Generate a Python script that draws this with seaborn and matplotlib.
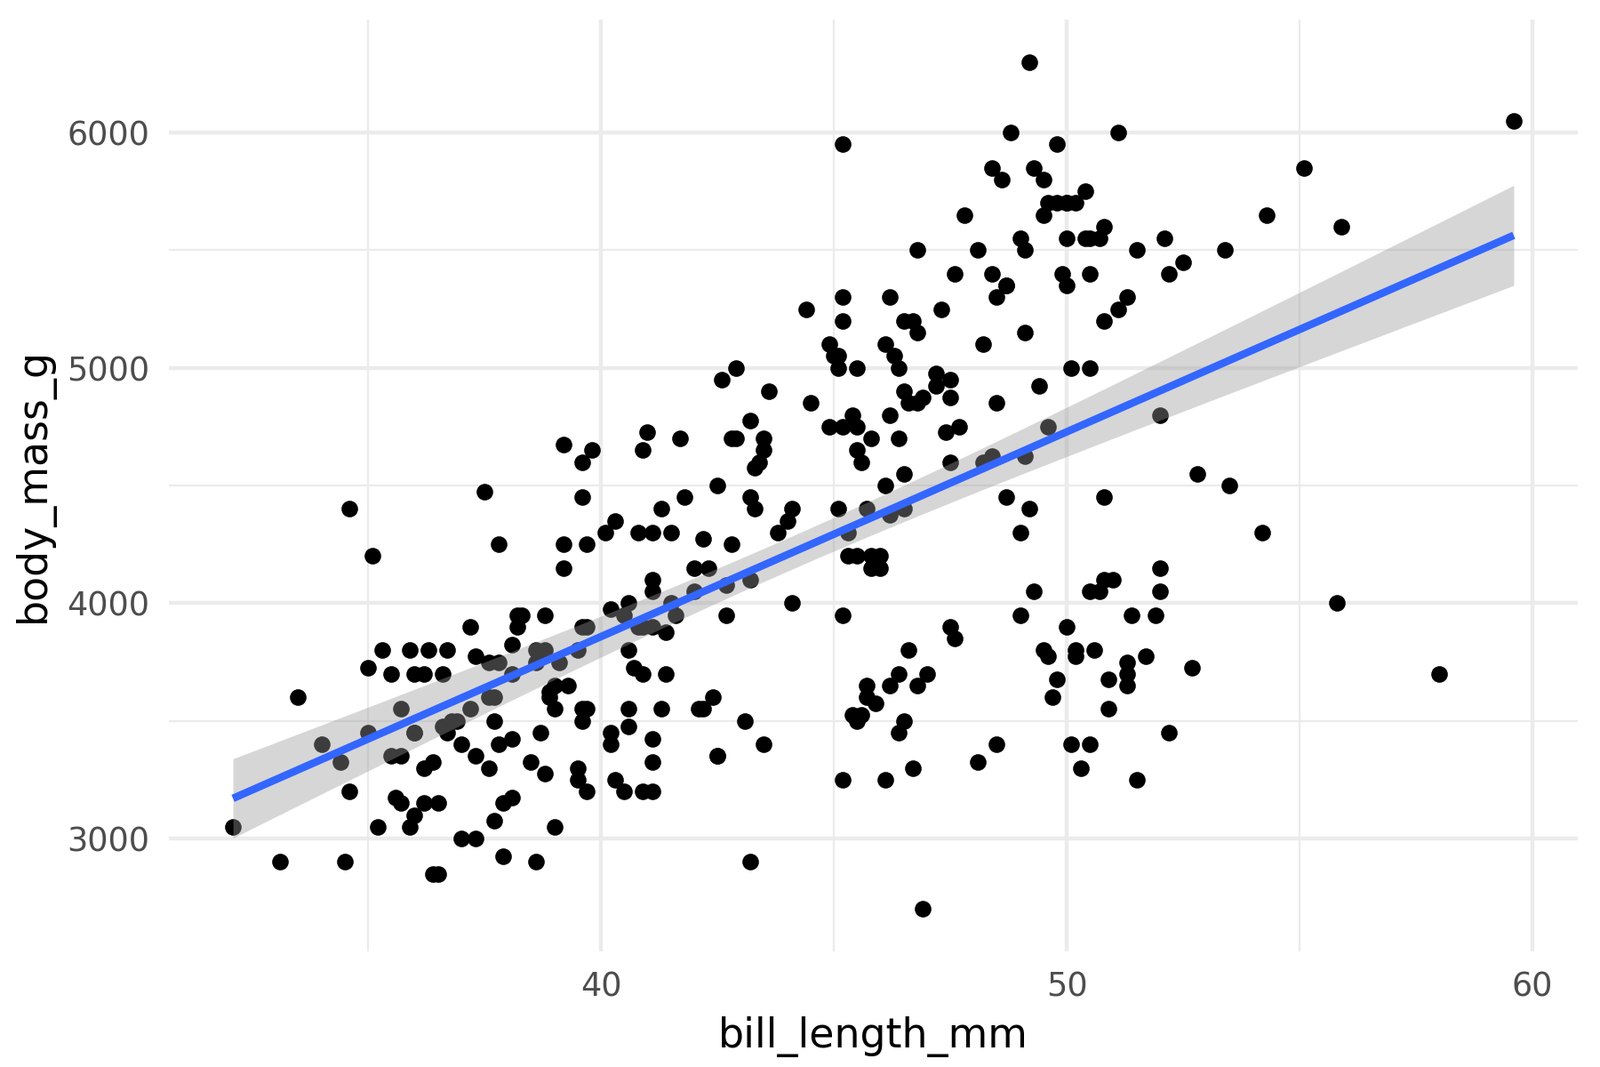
import numpy as np
import pandas as pd
import matplotlib
matplotlib.use("Agg")
import matplotlib.pyplot as plt
import seaborn as sns
from matplotlib.ticker import FixedLocator

# ---- data (bill length in mm, body mass in g) ----
adelie_bill = [39.1, 39.5, 40.3, 36.7, 39.3, 38.9, 39.2, 41.1, 38.6, 34.6,
               36.6, 38.7, 42.5, 34.4, 46.0, 37.8, 37.7, 35.9, 38.2, 38.8, 35.3, 40.6, 40.5, 37.9,
               40.5, 39.5, 37.2, 39.5, 40.9, 36.4, 39.2, 38.8, 42.2, 37.6, 39.8, 36.5, 40.8, 36.0,
               44.1, 37.0, 39.6, 41.1, 36.0, 42.3, 39.6, 40.1, 35.0, 42.0, 34.5, 41.4, 39.0,
               40.6, 36.5, 37.6, 35.7, 41.3, 37.6, 41.1, 36.4, 41.6, 35.5, 41.1, 35.9, 41.8, 33.5,
               39.7, 39.6, 45.8, 35.5, 42.8, 40.9, 37.2, 36.2, 42.1, 34.6, 42.9, 36.7, 35.1, 37.3,
               41.3, 36.3, 36.9, 38.3, 38.9, 35.7, 41.1, 34.0, 39.6, 36.2, 40.8, 38.1, 40.3, 33.1,
               43.2, 35.0, 41.0, 37.7, 37.8, 37.9, 39.7, 38.6, 38.2, 38.1, 43.2, 38.1, 45.6, 39.7,
               42.2, 39.6, 42.7, 38.6, 37.3, 35.7, 41.1, 36.2, 37.7, 40.2, 41.4, 35.2, 40.6, 38.8,
               41.5, 39.0, 44.1, 38.5, 43.1, 36.8, 37.5, 38.1, 41.1, 35.6, 40.2, 37.0, 39.7, 40.2,
               40.6, 32.1, 40.7, 37.3, 39.0, 39.2, 36.6, 36.0, 37.8, 36.0, 41.5]
adelie_mass = [3750, 3800, 3250, 3450, 3650, 3625, 4675, 3200, 3800, 4400,
               3700, 3450, 4500, 3325, 4200, 3400, 3600, 3800, 3950, 3800, 3800, 3550, 3200, 3150,
               3950, 3250, 3900, 3300, 3900, 3325, 4150, 3950, 3550, 3300, 4650, 3150, 3900, 3100,
               4400, 3000, 4600, 3425, 3450, 4150, 3500, 4300, 3450, 4050, 2900, 3700, 3550,
               3800, 2850, 3750, 3150, 4400, 3600, 4050, 2850, 3950, 3350, 4100, 3050, 4450, 3600,
               3900, 3550, 4150, 3700, 4250, 3700, 3550, 3700, 3550, 3200, 4700, 3800, 4200, 3350,
               3550, 3800, 3500, 3950, 3600, 3550, 4300, 3400, 4450, 3300, 4300, 3700, 4350, 2900,
               4100, 3725, 4725, 3075, 4250, 2925, 3550, 3750, 3900, 3175, 4775, 3825, 4600, 3200,
               4275, 3900, 4075, 2900, 3775, 3350, 3325, 3150, 3500, 3450, 3875, 3050, 4000, 3275,
               4300, 3050, 4000, 3325, 3500, 3500, 4475, 3425, 3900, 3175, 3975, 3400, 4250, 3400,
               3475, 3050, 3725, 3000, 3650, 4250, 3475, 3450, 3750, 3700, 4000]

gentoo_bill = [46.1, 50.0, 48.7, 50.0, 47.6, 46.5, 45.4, 46.7, 43.3, 46.8, 40.9, 49.0, 45.5, 48.4,
               45.8, 49.3, 42.0, 49.2, 46.2, 48.7, 50.2, 45.1, 46.5, 46.3, 42.9, 46.1, 47.8,
               48.2, 50.0, 47.3, 42.8, 45.1, 59.6, 49.1, 48.4, 42.6, 44.4, 44.0, 48.7, 42.7, 49.6,
               45.3, 49.6, 50.5, 43.6, 45.5, 50.5, 44.9, 45.2, 46.6, 48.5, 45.1, 50.1, 46.5, 45.0,
               43.8, 45.5, 43.2, 50.4, 45.3, 46.2, 45.7, 54.3, 45.8, 49.8, 49.5, 43.5, 50.7,
               47.7, 46.4, 48.2, 46.5, 46.4, 48.6, 47.5, 51.1, 45.2, 45.2, 49.1, 52.5, 47.4, 50.0,
               44.9, 50.8, 43.4, 51.3, 47.5, 52.1, 47.5, 52.2, 45.5, 49.5, 44.5, 50.8, 49.4, 46.9,
               48.4, 51.1, 48.5, 55.9, 47.2, 49.1, 46.8, 41.7, 53.4, 43.3, 48.1, 50.5, 49.8,
               43.5, 51.5, 46.2, 55.1, 48.8, 47.2, 46.8, 50.4, 45.2, 49.9]
gentoo_mass = [4500, 5700, 4450, 5700, 5400, 4550, 4800, 5200, 4400, 5150, 4650, 5550, 4650, 5850,
               4200, 5850, 4150, 6300, 4800, 5350, 5700, 5000, 4400, 5050, 5000, 5100, 5650,
               4600, 5550, 5250, 4700, 5050, 6050, 5150, 5400, 4950, 5250, 4350, 5350, 3950, 5700,
               4300, 4750, 5550, 4900, 4200, 5400, 5100, 5300, 4850, 5300, 4400, 5000, 4900, 5050,
               4300, 5000, 4450, 5550, 4200, 5300, 4400, 5650, 4700, 5700, 5800, 4700, 5550,
               4750, 5000, 5100, 5200, 4700, 5800, 4600, 6000, 4750, 5950, 4625, 5450, 4725, 5350,
               4750, 5600, 4600, 5300, 4875, 5550, 4950, 5400, 4750, 5650, 4850, 5200, 4925, 4875,
               4625, 5250, 4850, 5600, 4975, 5500, 5500, 4700, 5500, 4575, 5500, 5000, 5950,
               4650, 5500, 4375, 5850, 6000, 4925, 4850, 5750, 5200, 5400]

chinstrap_bill = [46.5, 50.0, 51.3, 45.4, 52.7, 45.2, 46.1, 51.3, 46.0, 51.3, 46.6, 51.7, 47.0, 52.0,
                  45.9, 50.5, 50.3, 58.0, 46.4, 49.2, 42.4, 48.5, 43.2, 50.6, 46.7, 52.0, 50.5, 49.5,
                  46.4, 52.8, 40.9, 54.2, 42.5, 51.0, 49.7, 47.5, 47.6, 52.0, 46.9, 53.5, 49.0, 46.2,
                  50.9, 45.5, 50.9, 50.8, 50.1, 49.0, 51.5, 49.8, 48.1, 51.4, 45.7, 50.7, 42.5, 52.2,
                  45.2, 49.3, 50.2, 45.6, 51.9, 46.8, 45.7, 55.8, 43.5, 49.6, 50.8, 50.2]
chinstrap_mass = [3500, 3900, 3650, 3525, 3725, 3950, 3250, 3750, 4150, 3700, 3800, 3775, 3700, 4050,
                  3575, 4050, 3300, 3700, 3450, 4400, 3600, 3400, 2900, 3800, 3300, 4150, 3400, 3800,
                  3700, 4550, 3200, 4300, 3350, 4100, 3600, 3900, 3850, 4800, 2700, 4500, 3950, 3650,
                  3550, 3500, 3675, 4450, 3400, 4300, 3250, 3675, 3325, 3950, 3600, 4050, 3350, 3450,
                  3250, 4050, 3800, 3525, 3950, 3650, 3650, 4000, 3400, 3775, 4100, 3775]

x_major = [40, 50, 60]
x_minor = [35, 45, 55]
y_major = [3000, 4000, 5000, 6000]
y_minor = [3500, 4500, 5500]

df = pd.DataFrame({
    "bill_length_mm": adelie_bill + gentoo_bill + chinstrap_bill,
    "body_mass_g": adelie_mass + gentoo_mass + chinstrap_mass,
})

# linear-model 95% confidence band (as in geom_smooth(method = "lm"))
xv = df["bill_length_mm"].to_numpy(float)
yv = df["body_mass_g"].to_numpy(float)
n = len(xv)
slope, intercept = np.polyfit(xv, yv, 1)
resid = yv - (intercept + slope * xv)
s_err = np.sqrt(np.sum(resid ** 2) / (n - 2))
grid = np.linspace(xv.min(), xv.max(), 80)
xbar = xv.mean()
se_fit = s_err * np.sqrt(1.0 / n + (grid - xbar) ** 2 / np.sum((xv - xbar) ** 2))
t_crit = 1.9672  # 97.5% quantile of t with n-2 (= 331) df
fit = intercept + slope * grid
band = pd.DataFrame({"x": grid, "lo": fit - t_crit * se_fit, "hi": fit + t_crit * se_fit})

sns.set_theme(style="white")
plt.rcParams['font.family'] = ['DejaVu Sans']

fig = plt.figure(figsize=(6, 4), dpi=300)
fig.patch.set_facecolor("white")
ax = fig.add_axes([0.1056, 0.1083, 0.8805, 0.8734])
ax.set_facecolor("white")

sns.scatterplot(data=df, x="bill_length_mm", y="body_mass_g", color="black",
                s=20, linewidth=0, ax=ax)
ax.fill_between(band["x"], band["lo"], band["hi"], facecolor="#999999", alpha=0.4,
                linewidth=0)
sns.regplot(data=df, x="bill_length_mm", y="body_mass_g", scatter=False, ci=None,
            truncate=True, color="#3366FF",
            line_kws={"linewidth": 2.05, "solid_capstyle": "butt"}, ax=ax)

ax.set_xlim(30.725, 60.975)
ax.set_ylim(2520, 6480)
ax.xaxis.set_major_locator(FixedLocator(x_major))
ax.xaxis.set_minor_locator(FixedLocator(x_minor))
ax.yaxis.set_major_locator(FixedLocator(y_major))
ax.yaxis.set_minor_locator(FixedLocator(y_minor))

ax.set_axisbelow(True)
ax.grid(which="major", color="#EBEBEB", linewidth=1.07)
ax.grid(which="minor", color="#EBEBEB", linewidth=0.53)
for s in ax.spines.values():
    s.set_visible(False)

ax.tick_params(axis="both", which="both", length=0, labelsize=8.8, labelcolor="#4D4D4D")
ax.tick_params(axis="x", which="major", pad=5.2)
ax.tick_params(axis="y", which="major", pad=5.2)

ax.set_xlabel("bill_length_mm", fontsize=11, color="black", labelpad=3.5)
ax.set_ylabel("body_mass_g", fontsize=11, color="black", labelpad=3.5)

fig.savefig("out.png", dpi=300, facecolor="white")
